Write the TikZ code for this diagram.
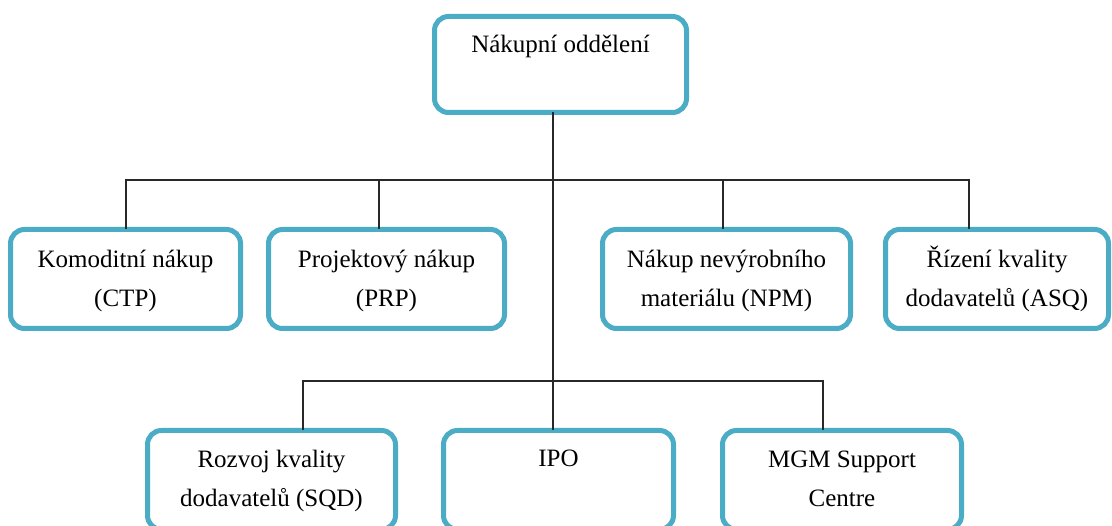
\documentclass[tikz,border=0pt]{standalone}
\usepackage{fontspec}
\setmainfont{Liberation Serif}
\definecolor{boxblue}{RGB}{75,172,198}
\definecolor{linegray}{RGB}{40,40,40}
\begin{document}
\begin{tikzpicture}[x=1pt,y=-1pt,
  box/.style={draw=boxblue, line width=5pt, rounded corners=14pt, fill=white, inner sep=0pt, outer sep=0pt},
  lbl/.style={anchor=base, inner sep=0pt, font=\fontsize{25}{39}\selectfont},
  conn/.style={draw=linegray, line width=1.5pt}]
\useasboundingbox[fill=white] (0,0) rectangle (1112,526);
% boxes
\node[box, minimum width=252pt, minimum height=96pt] (top) at (560.5,64.5) {};
\node[box, minimum width=230pt, minimum height=99pt] (b1) at (125.5,279) {};
\node[box, minimum width=236pt, minimum height=99pt] (b2) at (386.5,279) {};
\node[box, minimum width=248pt, minimum height=99pt] (b3) at (726.5,279) {};
\node[box, minimum width=223pt, minimum height=99pt] (b4) at (997,279) {};
\node[box, minimum width=248pt, minimum height=99pt] (c1) at (271.5,480) {};
\node[box, minimum width=230pt, minimum height=99pt] (ipo) at (558.5,480) {};
\node[box, minimum width=239pt, minimum height=99pt] (c3) at (842,480) {};
% texts
\node[lbl] (ttop) at (560.5,53) {Nákupní oddělení};
\node[lbl] (tb1) at (125.5,268) {\begin{tabular}[t]{@{}c@{}}Komoditní nákup\\(CTP)\end{tabular}};
\node[lbl] (tb2) at (386.5,268) {\begin{tabular}[t]{@{}c@{}}Projektový nákup\\(PRP)\end{tabular}};
\node[lbl] (tb3) at (726.5,268) {\begin{tabular}[t]{@{}c@{}}Nákup nevýrobního\\materiálu (NPM)\end{tabular}};
\node[lbl] (tb4) at (997,268) {\begin{tabular}[t]{@{}c@{}}Řízení kvality\\dodavatelů (ASQ)\end{tabular}};
\node[lbl] (tc1) at (271.5,468) {\begin{tabular}[t]{@{}c@{}}Rozvoj kvality\\dodavatelů (SQD)\end{tabular}};
\node[lbl] (tipo) at (558.5,467) {IPO};
\node[lbl] (tc3) at (842,468) {\begin{tabular}[t]{@{}c@{}}MGM Support\\Centre\end{tabular}};
% connector points
\coordinate (j1) at (553,180);
\coordinate (d1) at (126,180);
\coordinate (d2) at (379,180);
\coordinate (d3) at (723,180);
\coordinate (d4) at (969,180);
\coordinate (e1) at (303,381);
\coordinate (e2) at (553,381);
\coordinate (e3) at (823,381);
% connectors
\draw[conn] (top.south -| j1) -- (j1) -- (ipo.north -| j1);
\draw[conn] (b1.north -| d1) -- (d1) -- (d4) -- (b4.north -| d4);
\draw[conn] (d2) -- (b2.north -| d2);
\draw[conn] (d3) -- (b3.north -| d3);
\draw[conn] (c1.north -| e1) -- (e1) -- (e3) -- (c3.north -| e3);
\end{tikzpicture}
\end{document}
